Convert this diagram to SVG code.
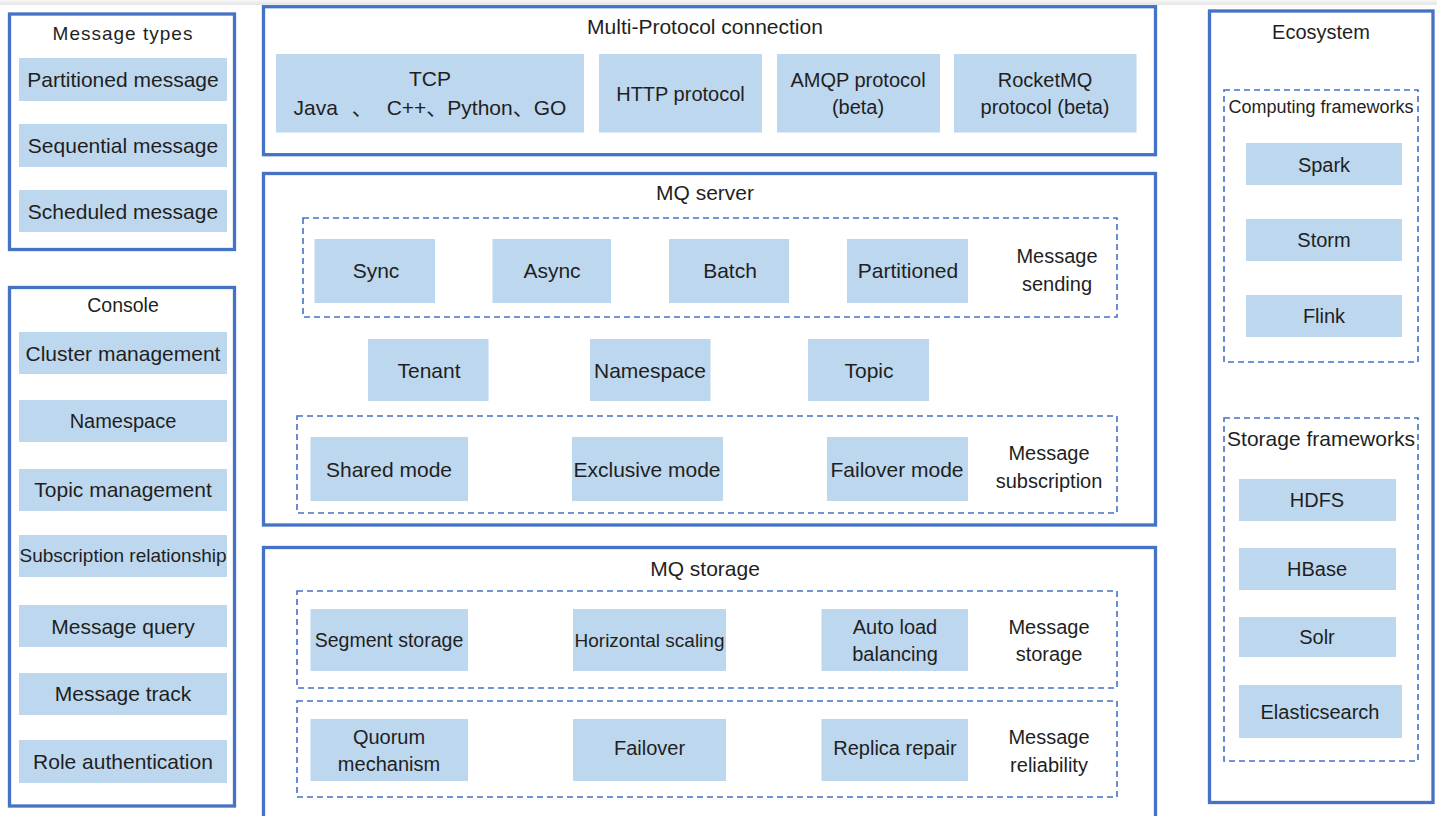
<svg xmlns="http://www.w3.org/2000/svg" width="1442" height="816" viewBox="0 0 1442 816">
<defs>
<linearGradient id="bar" x1="0" y1="0" x2="0" y2="1"><stop offset="0" stop-color="#f6f6f6"/><stop offset="1" stop-color="#e4e4e4"/></linearGradient>
<style>
.frame{fill:#ffffff;stroke:#4472C4;stroke-width:3.3}
.dash{fill:none;stroke:#4472C4;stroke-width:1.6;stroke-dasharray:6 4}
.item{fill:#BDD7EE}
text{font-family:"Liberation Sans","Noto Sans CJK SC",sans-serif;font-size:20px;fill:#1f1f1f;text-anchor:middle;dominant-baseline:central}
.w21{font-size:21px}
</style>
</defs>
<rect x="0" y="0" width="1442" height="816" fill="#ffffff"/>
<rect x="0" y="0" width="1437" height="5" fill="url(#bar)"/>

<g id="message-types">
<rect class="frame" x="9.5" y="14" width="225" height="235.5"/>
<text x="123" y="33" style="font-size:19px;letter-spacing:1px">Message types</text>
<rect class="item" x="19" y="58" width="208" height="43"/>
<text class="w21" x="123" y="79.5">Partitioned message</text>
<rect class="item" x="19" y="124" width="208" height="43"/>
<text class="w21" x="123" y="145.5">Sequential message</text>
<rect class="item" x="19" y="190" width="208" height="42"/>
<text class="w21" x="123" y="211">Scheduled message</text>
</g>

<g id="console">
<rect class="frame" x="9.5" y="287.5" width="225" height="518.5"/>
<text x="123" y="305" style="font-size:19.5px">Console</text>
<rect class="item" x="19" y="332" width="208" height="42"/>
<text class="w21" x="123" y="353">Cluster management</text>
<rect class="item" x="19" y="400" width="208" height="42"/>
<text x="123" y="420.5">Namespace</text>
<rect class="item" x="19" y="469" width="208" height="42"/>
<text class="w21" x="123" y="489.5">Topic management</text>
<rect class="item" x="19" y="535" width="208" height="42"/>
<text x="123" y="555.5" style="font-size:19px">Subscription relationship</text>
<rect class="item" x="19" y="605" width="208" height="42"/>
<text class="w21" x="123" y="626">Message query</text>
<rect class="item" x="19" y="673" width="208" height="42"/>
<text class="w21" x="123" y="693.5">Message track</text>
<rect class="item" x="19" y="740" width="208" height="43"/>
<text class="w21" x="123" y="761.5">Role authentication</text>
</g>

<g id="multi-protocol">
<rect class="frame" x="263.5" y="6.7" width="892" height="148"/>
<text class="w21" x="705" y="26">Multi-Protocol connection</text>
<rect class="item" x="276" y="54" width="308" height="78.5"/>
<text class="w21" x="430" y="78">TCP</text>
<text class="w21" x="430" y="107" style="word-spacing:8px">Java 、 C++、Python、GO</text>
<rect class="item" x="599" y="54" width="163" height="78.5"/>
<text x="680.5" y="94">HTTP protocol</text>
<rect class="item" x="777" y="54" width="163" height="78.5"/>
<text x="858" y="80">AMQP protocol</text>
<text x="858" y="107">(beta)</text>
<rect class="item" x="954" y="54" width="182.5" height="78.5"/>
<text x="1045" y="80">RocketMQ</text>
<text x="1045" y="107">protocol (beta)</text>
</g>

<g id="mq-server">
<rect class="frame" x="263.5" y="173.5" width="892" height="351.5"/>
<text class="w21" x="705" y="192">MQ server</text>
<rect class="dash" x="303" y="218" width="814" height="99"/>
<rect class="item" x="314.5" y="239" width="120.5" height="64"/>
<text class="w21" x="376" y="270">Sync</text>
<rect class="item" x="492.5" y="239" width="118.5" height="64"/>
<text class="w21" x="552" y="270">Async</text>
<rect class="item" x="669" y="239" width="120" height="64"/>
<text class="w21" x="730" y="270">Batch</text>
<rect class="item" x="847" y="239" width="121" height="64"/>
<text class="w21" x="908" y="270">Partitioned</text>
<text x="1057" y="256">Message</text>
<text x="1057" y="284">sending</text>
<rect class="item" x="368" y="339" width="120.5" height="62"/>
<text class="w21" x="429" y="370">Tenant</text>
<rect class="item" x="590" y="339" width="120.5" height="62"/>
<text class="w21" x="650" y="370">Namespace</text>
<rect class="item" x="808" y="339" width="121" height="62"/>
<text class="w21" x="869" y="370">Topic</text>
<rect class="dash" x="297" y="416" width="820" height="97"/>
<rect class="item" x="310.5" y="437" width="157.5" height="64"/>
<text class="w21" x="389" y="469">Shared mode</text>
<rect class="item" x="572" y="437" width="151" height="64"/>
<text class="w21" x="647" y="469">Exclusive mode</text>
<rect class="item" x="827" y="437" width="141" height="64"/>
<text class="w21" x="897" y="469">Failover mode</text>
<text x="1049" y="453">Message</text>
<text x="1049" y="481">subscription</text>
</g>

<g id="mq-storage">
<rect class="frame" x="263.5" y="547.5" width="892" height="300"/>
<text class="w21" x="705" y="568">MQ storage</text>
<rect class="dash" x="297" y="591" width="820" height="97"/>
<rect class="item" x="310.5" y="609" width="157.5" height="62"/>
<text x="389" y="640" style="font-size:19.5px">Segment storage</text>
<rect class="item" x="573" y="609" width="153" height="62"/>
<text x="649.5" y="640" style="font-size:19px">Horizontal scaling</text>
<rect class="item" x="821.5" y="609" width="146.5" height="62"/>
<text x="895" y="627">Auto load</text>
<text x="895" y="654">balancing</text>
<text x="1049" y="627">Message</text>
<text x="1049" y="654">storage</text>
<rect class="dash" x="297" y="701" width="820" height="96"/>
<rect class="item" x="310.5" y="719" width="157.5" height="62"/>
<text x="389" y="737">Quorum</text>
<text x="389" y="764">mechanism</text>
<rect class="item" x="573" y="719" width="153" height="62"/>
<text x="649.5" y="748">Failover</text>
<rect class="item" x="821.5" y="719" width="146.5" height="62"/>
<text x="895" y="748">Replica repair</text>
<text x="1049" y="737">Message</text>
<text x="1049" y="765">reliability</text>
</g>

<g id="ecosystem">
<rect class="frame" x="1209.5" y="11" width="223.5" height="791.5"/>
<text x="1321" y="32">Ecosystem</text>
<rect class="dash" x="1224" y="90" width="194" height="272"/>
<text x="1321" y="107" style="font-size:18px">Computing frameworks</text>
<rect class="item" x="1246" y="143" width="156" height="42"/>
<text x="1324" y="165">Spark</text>
<rect class="item" x="1246" y="219" width="156" height="42"/>
<text x="1324" y="240">Storm</text>
<rect class="item" x="1246" y="295" width="156" height="42"/>
<text x="1324" y="316">Flink</text>
<rect class="dash" x="1224" y="418" width="194" height="343"/>
<text class="w21" x="1321" y="438">Storage frameworks</text>
<rect class="item" x="1239" y="479" width="157" height="42"/>
<text x="1317" y="500">HDFS</text>
<rect class="item" x="1239" y="548" width="157" height="42"/>
<text x="1317" y="569">HBase</text>
<rect class="item" x="1239" y="617" width="157" height="40"/>
<text x="1317" y="637">Solr</text>
<rect class="item" x="1239" y="685" width="163" height="53"/>
<text x="1320" y="712">Elasticsearch</text>
</g>

<g id="connectors"/>
</svg>
